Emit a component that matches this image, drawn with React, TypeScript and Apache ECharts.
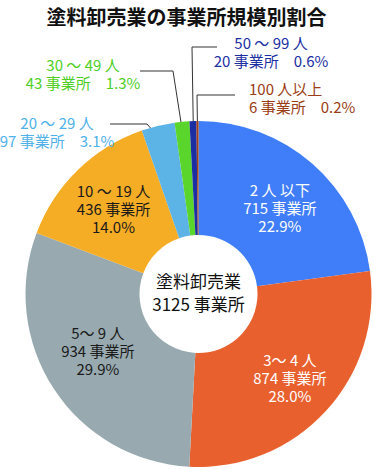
import React, { useEffect, useRef } from "react";
import * as echarts from "echarts";

const categories = ["2 人 以下", "3～ 4 人", "5～ 9 人", "10 ～ 19 人", "20 ～ 29 人", "30 ～ 49 人", "50 ～ 99 人", "100 人以上"];
const counts = [715, 874, 934, 436, 97, 43, 20, 6];
const percents = [22.9, 28.0, 29.9, 14.0, 3.1, 1.3, 0.6, 0.2];
const sliceColors = ["#3f7ef8", "#e9602f", "#98aab0", "#f6ad26", "#5cb3e6", "#5ad52b", "#1b2fa3", "#a23f17"];
const labelColors = ["#ffffff", "#ffffff", "#1a1a1a", "#1a1a1a", "#4fb1e9", "#4fcf25", "#1b2fa3", "#9a3d14"];
const titleText = "塗料卸売業の事業所規模別割合";
const centerTitle = "塗料卸売業";
const unit = "事業所";

const FONT = '"Noto Sans CJK JP", "Noto Sans", sans-serif';
const CX = 198.5;
const CY = 294;
const R0 = 59;
const R1 = 173;

type OutsidePlacement = {
  x: number;
  y: number;
  align: "left" | "center" | "right";
  r: number;
  corner: number[];
  end: number[];
};

const outsidePlacement: Record<number, OutsidePlacement> = {
  4: { x: 57, y: 131, align: "center", r: 158, corner: [147, 124], end: [110, 124] },
  5: { x: 83, y: 73, align: "center", r: 155, corner: [173, 71], end: [140, 71] },
  6: { x: 271, y: 51, align: "center", r: 155, corner: [192, 47], end: [217, 47] },
  7: { x: 249, y: 97, align: "left", r: 163, corner: [197, 95], end: [235, 95] },
};
const insideOffsets = [[3, 3], [4, 3], [-1, -9], [-2, 0]];

export default function App() {
  const ref = useRef<HTMLDivElement>(null);

  useEffect(() => {
    if (!ref.current) return;
    const chart = echarts.init(ref.current, undefined, { renderer: "svg" });
    const total = counts.reduce((a, b) => a + b, 0);
    const midAngles: number[] = [];
    let cum = 0;
    counts.forEach((v) => {
      midAngles.push(((cum + v / 2) / total) * Math.PI * 2);
      cum += v;
    });

    const data = counts.map((v, i) => {
      const isInside = i < 4;
      const text = isInside
        ? `${categories[i]}\n${v} ${unit}\n${percents[i].toFixed(1)}%`
        : `${categories[i]}\n${v} ${unit}　${percents[i].toFixed(1)}%`;
      return {
        name: categories[i],
        value: v,
        itemStyle: { color: sliceColors[i] },
        label: {
          show: true,
          position: isInside ? "inside" : "outside",
          color: labelColors[i],
          formatter: text,
          offset: isInside ? insideOffsets[i] : [0, 0],
        },
        labelLine: {
          show: !isInside,
          lineStyle: { color: "#333333", width: 1 },
        },
      };
    });

    chart.setOption({
      animation: false,
      title: {
        text: titleText,
        left: "center",
        top: 1,
        textStyle: { fontSize: 20, fontWeight: "bold", color: "#111111", fontFamily: FONT },
      },
      graphic: [
        {
          type: "text",
          x: CX,
          y: CY - 2,
          z: 100,
          style: {
            text: `${centerTitle}\n${total} ${unit}`,
            fill: "#111111",
            fontSize: 17,
            fontFamily: FONT,
            align: "center",
            verticalAlign: "middle",
            lineHeight: 23,
          },
        },
      ],
      series: [
        {
          type: "pie",
          center: [CX, CY],
          radius: [R0, R1],
          startAngle: 90,
          clockwise: true,
          avoidLabelOverlap: false,
          silent: true,
          label: {
            fontFamily: FONT,
            fontSize: 15,
            lineHeight: 18,
            overflow: "none",
          },
          labelLine: { show: true, length: 10, length2: 10, smooth: false },
          labelLayout: (params: any) => {
            const o = outsidePlacement[params.dataIndex];
            if (!o) return {};
            const a = midAngles[params.dataIndex];
            const start = [CX + o.r * Math.sin(a), CY - o.r * Math.cos(a)];
            return {
              x: o.x,
              y: o.y,
              align: o.align,
              verticalAlign: "middle",
              labelLinePoints: [start, o.corner, o.end],
            };
          },
          data,
        },
      ],
    });
    return () => chart.dispose();
  }, []);

  return (
    <div
      ref={ref}
      style={{ position: "absolute", left: 0, top: 0, width: 373, height: 469, background: "#ffffff" }}
    />
  );
}
